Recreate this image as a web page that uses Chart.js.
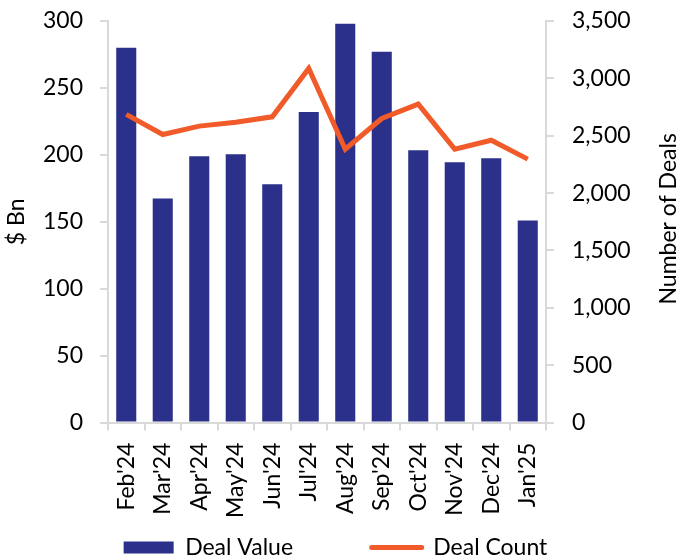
<!DOCTYPE html>
<html><head><meta charset="utf-8">
<script src="https://cdn.jsdelivr.net/npm/chart.js@4"></script>
<style>html,body{margin:0;padding:0;background:#fff}</style>
</head><body>
<canvas id="c" width="683" height="559" style="width:683px;height:559px"></canvas>
<script>
const categories = ["Feb'24","Mar'24","Apr'24","May'24","Jun'24","Jul'24","Aug'24","Sep'24","Oct'24","Nov'24","Dec'24","Jan'25"];
const dealValue = [280, 167.5, 199, 200.5, 178, 232, 298, 277, 203.5, 194.5, 197.5, 151];
const dealCount = [2686, 2511, 2584, 2618, 2665, 3087, 2383, 2650, 2776, 2383, 2461, 2296];
const leftAxisMax = 300, leftAxisStep = 50;
const rightAxisMax = 3500, rightAxisStep = 500;
const leftTitle = '$ Bn';
const rightTitle = 'Number of Deals';

const NAVY = '#2B318B';
const ORANGE = '#F15A29';
const AXIS = '#D9D9D9';
const FONT = 'Lato';
const FS = 23;

Chart.defaults.font.family = FONT;
Chart.defaults.font.size = FS;
Chart.defaults.color = '#000';

// Right axis title reads bottom-to-top as in the reference
const rightTitlePlugin = {
  id: 'rightTitle',
  afterDraw(chart) {
    const ctx = chart.ctx;
    ctx.save();
    ctx.font = FS + 'px ' + FONT;
    ctx.fillStyle = '#000';
    ctx.textAlign = 'center';
    ctx.textBaseline = 'middle';
    const x = chart.scales.y1.right - 2;
    const y = (chart.chartArea.top + chart.chartArea.bottom) / 2 - 3;
    ctx.translate(x, y);
    ctx.rotate(-Math.PI / 2);
    ctx.fillText(rightTitle, 0, 0);
    ctx.restore();
  }
};

new Chart(document.getElementById('c'), {
  data: {
    labels: categories,
    datasets: [
      { type: 'bar', label: 'Deal Value', data: dealValue, backgroundColor: NAVY, yAxisID: 'y', order: 2,
        barPercentage: 0.55, categoryPercentage: 1 },
      { type: 'line', label: 'Deal Count', data: dealCount, borderColor: ORANGE, backgroundColor: ORANGE,
        borderWidth: 5, pointRadius: 0, yAxisID: 'y1', order: 1, tension: 0 }
    ]
  },
  plugins: [rightTitlePlugin],
  options: {
    responsive: false,
    animation: false,
    devicePixelRatio: 1,
    layout: { padding: { top: 21, left: 0, right: 12, bottom: -10 } },
    plugins: {
      tooltip: { enabled: false },
      legend: {
        position: 'bottom',
        labels: {
          usePointStyle: true,
          pointStyleWidth: 50,
          boxWidth: 50,
          boxHeight: 12,
          padding: 8,
          sort: (a, b) => a.datasetIndex - b.datasetIndex,
          generateLabels(chart) {
            const items = Chart.defaults.plugins.legend.labels.generateLabels(chart);
            items.forEach(it => {
              if (it.datasetIndex === 0) {
                it.pointStyle = 'rect'; it.lineWidth = 0; it.fillStyle = NAVY; it.strokeStyle = NAVY;
                it.text = it.text + '            ';
              } else {
                it.pointStyle = 'line'; it.lineWidth = 5; it.strokeStyle = ORANGE; it.fillStyle = ORANGE; it.lineCap = 'round';
              }
            });
            return items;
          }
        }
      }
    },
    scales: {
      x: {
        grid: { display: true, drawOnChartArea: false, drawTicks: true, tickLength: 8, color: AXIS, lineWidth: 2, offset: true },
        border: { display: true, color: AXIS, width: 2 },
        ticks: { minRotation: 90, maxRotation: 90, autoSkip: false, padding: 12 },
        afterFit: s => { s.height = s.height - 2; s.paddingLeft = 0; s.paddingRight = 0; }
      },
      y: {
        position: 'left', min: 0, max: leftAxisMax,
        grid: { display: true, drawOnChartArea: false, drawTicks: true, tickLength: 8, color: AXIS, lineWidth: 2 },
        border: { display: true, color: AXIS, width: 2 },
        ticks: { stepSize: leftAxisStep, padding: 17 },
        title: { display: true, text: leftTitle, padding: { top: 3, bottom: 0 } },
        afterFit: s => { s.width = 108; s.paddingTop = 0; s.paddingBottom = 0; }
      },
      y1: {
        position: 'right', min: 0, max: rightAxisMax,
        grid: { display: true, drawOnChartArea: false, drawTicks: true, tickLength: 8, color: AXIS, lineWidth: 2 },
        border: { display: true, color: AXIS, width: 2 },
        ticks: { stepSize: rightAxisStep, padding: 18, callback: v => v.toLocaleString('en-US') },
        afterFit: s => { s.width = 125; s.paddingTop = 0; s.paddingBottom = 0; }
      }
    }
  }
});
</script>
</body></html>
